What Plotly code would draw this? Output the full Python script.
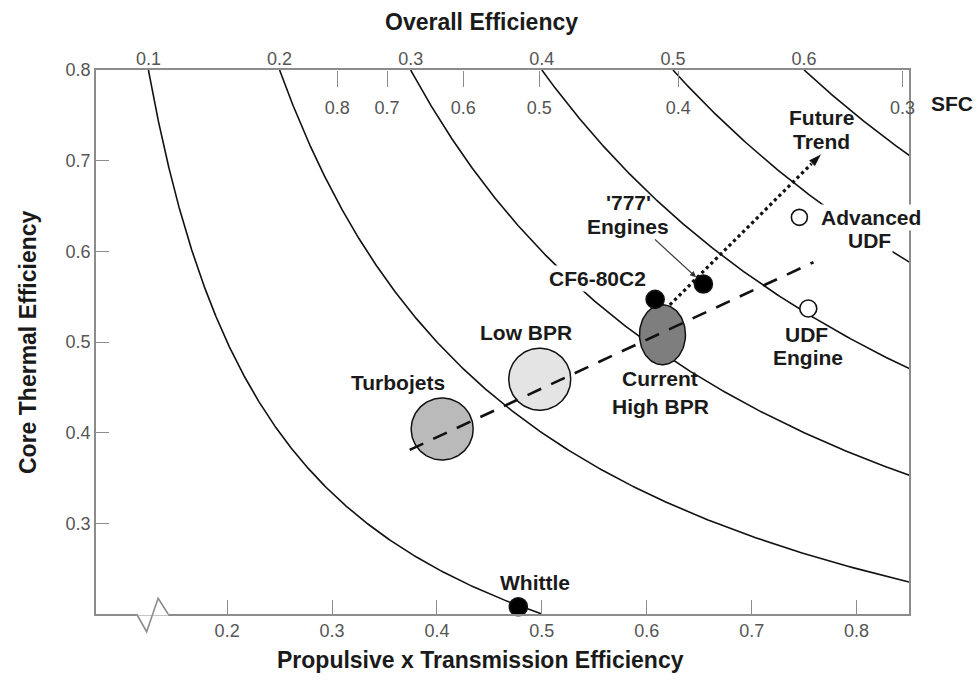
import numpy as np
import plotly.graph_objects as go

# ---------------- data ----------------
overall_eff = [0.1, 0.2, 0.3, 0.4, 0.5, 0.6]
overall_labels = ["0.1", "0.2", "0.3", "0.4", "0.5", "0.6"]
sfc_labels = ["0.8", "0.7", "0.6", "0.5", "0.4", "0.3"]
sfc_overall_eff = [0.244, 0.282, 0.340, 0.398, 0.504, 0.675]
x_tick_values = [0.2, 0.3, 0.4, 0.5, 0.6, 0.7, 0.8]
y_tick_values = [0.3, 0.4, 0.5, 0.6, 0.7, 0.8]

group_names = ["Turbojets", "Low BPR", "Current High BPR"]
group_prop = [0.405, 0.498, 0.615]
group_therm = [0.404, 0.459, 0.508]

engine_names = ["Whittle", "CF6-80C2", "'777' Engines", "UDF Engine", "Advanced UDF"]
engine_prop = [0.4776, 0.608, 0.654, 0.754, 0.7455]
engine_therm = [0.208, 0.547, 0.564, 0.537, 0.6375]

trend_prop = [0.374, 0.759]
trend_therm = [0.381, 0.588]
future_prop = [0.622, 0.767]
future_therm = [0.541, 0.708]

# ---------------- style / layout constants ----------------
W, H = 980, 682
M_L, M_R, M_T, M_B = 96, 71, 70, 68
X_RANGE = [0.075, 0.85]
Y_RANGE = [0.2, 0.80001]
PW, PH = W - M_L - M_R, H - M_T - M_B
XU = (X_RANGE[1] - X_RANGE[0]) / PW   # data units per px
YU = (Y_RANGE[1] - Y_RANGE[0]) / PH

FONT = "Liberation Sans"
AX_COL = "#8c8c8c"
TICK_FONT = dict(family=FONT, size=18, color="#555555")
LBL_FONT = dict(family=FONT, size=21, color="#1a1a1a")
TITLE_FONT = dict(family=FONT, size=23, color="#1a1a1a")

group_radii_px = [(31, 31), (31, 31), (23, 30)]
group_fill = ["#bababa", "#e4e4e4", "#7e7e7e"]
engine_fill = ["#000000", "#000000", "#000000", "#ffffff", "#ffffff"]
engine_size = [18, 18, 18, 17, 16]

fig = go.Figure()

# overall-efficiency iso-lines (propulsive * thermal = overall)
ys = np.linspace(0.2, 0.8, 400)
for e in overall_eff:
    fig.add_trace(go.Scatter(x=e / ys, y=ys, mode="lines",
                             line=dict(color="#111111", width=1.6),
                             hoverinfo="skip"))

# engine-class regions
t = np.linspace(0, 2 * np.pi, 120)
for cx, cy, (rx, ry), col in zip(group_prop, group_therm, group_radii_px, group_fill):
    fig.add_trace(go.Scatter(x=cx + rx * XU * np.cos(t), y=cy + ry * YU * np.sin(t),
                             mode="lines", fill="toself", fillcolor=col,
                             line=dict(color="#111111", width=1.5), hoverinfo="skip"))

# dashed trend line
fig.add_trace(go.Scatter(x=trend_prop, y=trend_therm, mode="lines",
                         line=dict(color="#111111", width=2.6, dash="15px,11px")))

# dotted future trend arrow
fig.add_trace(go.Scatter(x=future_prop, y=future_therm, mode="lines+markers",
                         line=dict(color="#111111", width=3.2, dash="dot"),
                         marker=dict(symbol=["circle", "arrow"], size=[0, 15], opacity=1,
                                     angleref="previous", color="#111111")))

# engines
fig.add_trace(go.Scatter(x=engine_prop, y=engine_therm, mode="markers",
                         marker=dict(size=engine_size, color=engine_fill, opacity=1,
                                     line=dict(color="#111111", width=1.6)),
                         cliponaxis=False))

annotations = []


def label(text, x, y, bg=False):
    annotations.append(dict(x=x, y=y, xref="x", yref="y", text="<b>" + text + "</b>",
                            showarrow=False, font=LBL_FONT, borderpad=1,
                            xanchor="center", yanchor="middle",
                            bgcolor="white" if bg else "rgba(0,0,0,0)"))


label("Turbojets", 0.363, 0.455)
label("Low BPR", 0.485, 0.510)
label("Current", 0.6127, 0.4603)
label("High BPR", 0.6127, 0.4294)
label("CF6-80C2", 0.5526, 0.5695, bg=True)
label("'777'", 0.5822, 0.6535)
label("Engines", 0.5822, 0.6272)
label("Whittle", 0.4935, 0.2353)
label("Future", 0.7662, 0.7475)
label("Trend", 0.7662, 0.7215)
label("Advanced", 0.8138, 0.6375, bg=True)
label("UDF", 0.8128, 0.6118, bg=True)
label("UDF", 0.7519, 0.5085)
label("Engine", 0.7538, 0.4825)

# arrow pointing at the '777' engines
annotations.append(dict(x=engine_prop[2], y=engine_therm[2], xref="x", yref="y",
                        ax=-50, ay=-46, text="", showarrow=True, arrowhead=2,
                        arrowsize=1, arrowwidth=1.2, arrowcolor="#333333", standoff=10))

# axis titles
annotations.append(dict(x=(481 - M_L) / PW, y=1, xref="paper", yref="paper", yshift=48,
                        xanchor="center", yanchor="middle",
                        text="<b>Overall Efficiency</b>", showarrow=False, font=TITLE_FONT))
annotations.append(dict(x=(480 - M_L) / PW, y=0, xref="paper", yref="paper", yshift=-46,
                        xanchor="center", yanchor="middle",
                        text="<b>Propulsive x Transmission Efficiency</b>", showarrow=False,
                        font=TITLE_FONT))
annotations.append(dict(x=0, y=0.5, xref="paper", yref="paper", xshift=-68, textangle=-90,
                        xanchor="center", yanchor="middle",
                        text="<b>Core Thermal Efficiency</b>", showarrow=False, font=TITLE_FONT))
annotations.append(dict(x=1, y=1, xref="paper", yref="paper", xshift=43, yshift=-33,
                        xanchor="center", yanchor="middle",
                        text="<b>SFC</b>", showarrow=False,
                        font=dict(family=FONT, size=21, color="#1a1a1a")))

# axis break symbol on the bottom axis
brk_x = [-20.0, -10.0, 1.5, 11.5]
brk_y = [0, -17.7, 15.7, 0]
bx0 = 0.1328
path = "M" + " L".join(f"{bx0 + dx * XU},{dy / PH}" for dx, dy in zip(brk_x, brk_y))
shapes = [dict(type="line", xref="x", yref="paper", x0=bx0 + brk_x[0] * XU,
               x1=bx0 + brk_x[-1] * XU, y0=0, y1=0, line=dict(color="white", width=3)),
          dict(type="path", xref="x", yref="paper", path=path,
               line=dict(color=AX_COL, width=1.6))]

fig.update_layout(
    width=W, height=H,
    margin=dict(l=M_L, r=M_R, t=M_T, b=M_B),
    paper_bgcolor="white", plot_bgcolor="white",
    showlegend=False,
    annotations=annotations,
    shapes=shapes,
    xaxis=dict(range=X_RANGE, showgrid=False, zeroline=False, showline=True, mirror=True,
               linecolor=AX_COL, linewidth=1.6, ticks="inside", ticklen=14, tickwidth=1.4,
               tickcolor=AX_COL, tickvals=x_tick_values,
               ticktext=[f"{v:.1f}" for v in x_tick_values], tickfont=TICK_FONT),
    xaxis2=dict(range=X_RANGE, overlaying="x", side="top", anchor="y", showgrid=False,
                zeroline=False, showline=False, ticks="",
                tickvals=[e / 0.8 for e in overall_eff], ticktext=overall_labels,
                tickfont=TICK_FONT),
    # SFC scale: hangs down from the top frame line
    xaxis3=dict(range=X_RANGE, overlaying="x", side="bottom", anchor="free", position=1.0,
                showgrid=False, zeroline=False, showline=False, ticks="outside", ticklen=16,
                tickwidth=1.4, tickcolor=AX_COL, ticklabelstandoff=5,
                tickvals=[e / 0.8 for e in sfc_overall_eff], ticktext=sfc_labels,
                tickfont=TICK_FONT),
    yaxis=dict(range=Y_RANGE, showgrid=False, zeroline=False, showline=True, mirror=True,
               linecolor=AX_COL, linewidth=1.6, ticks="inside", ticklen=13, tickwidth=1.4,
               tickcolor=AX_COL, tickvals=y_tick_values,
               ticktext=[f"{v:.1f}" for v in y_tick_values], tickfont=TICK_FONT),
)

# dummy traces to activate the top axes
fig.add_trace(go.Scatter(x=[None], y=[None], xaxis="x2", yaxis="y", showlegend=False))
fig.add_trace(go.Scatter(x=[None], y=[None], xaxis="x3", yaxis="y", showlegend=False))

fig.write_html("out.html")
